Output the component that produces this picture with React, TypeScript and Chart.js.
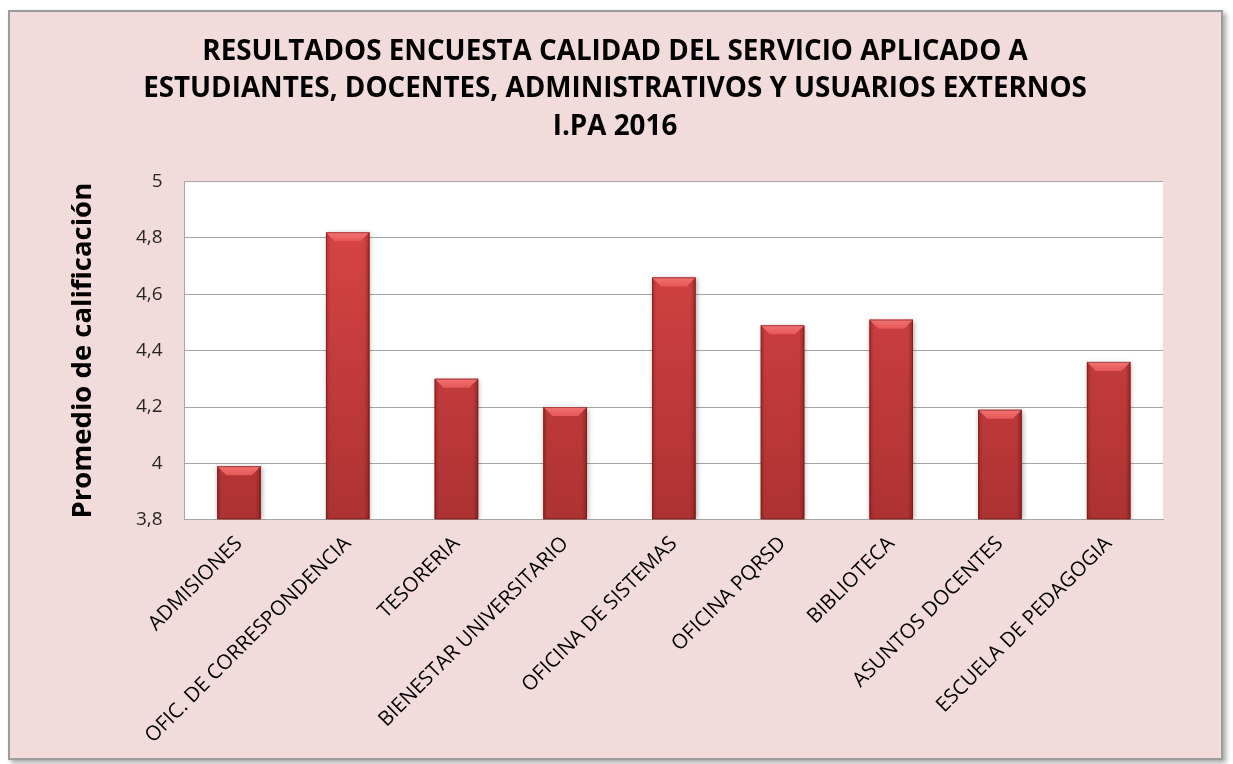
import React, { useEffect, useRef } from "react";
import { Chart, registerables } from "chart.js";

Chart.register(...registerables);

const titleLines = [
  "RESULTADOS ENCUESTA CALIDAD DEL SERVICIO APLICADO A",
  "ESTUDIANTES, DOCENTES, ADMINISTRATIVOS Y USUARIOS EXTERNOS",
  "I.PA 2016",
];
const yAxisTitle = "Promedio de calificación";
const categories = [
  "ADMISIONES",
  "OFIC. DE CORRESPONDENCIA",
  "TESORERIA",
  "BIENESTAR UNIVERSITARIO",
  "OFICINA DE SISTEMAS",
  "OFICINA PQRSD",
  "BIBLIOTECA",
  "ASUNTOS DOCENTES",
  "ESCUELA DE PEDAGOGIA",
];
const values = [3.99, 4.82, 4.3, 4.2, 4.66, 4.49, 4.51, 4.19, 4.36];
const yMin = 3.8;
const yMax = 5;
const yStep = 0.2;

const FONT = "'Open Sans', Lato, sans-serif";

const plotBgPlugin = {
  id: "plotBg",
  beforeDraw(chart: any) {
    const { ctx, chartArea } = chart;
    if (!chartArea) return;
    ctx.save();
    ctx.fillStyle = "#ffffff";
    ctx.fillRect(chartArea.left, chartArea.top, chartArea.right - chartArea.left, chartArea.bottom - chartArea.top);
    ctx.restore();
  },
};

const bevelPlugin = {
  id: "bevel",
  beforeDatasetsDraw(chart: any) {
    const { ctx, chartArea } = chart;
    const meta = chart.getDatasetMeta(0);
    ctx.save();
    ctx.beginPath();
    ctx.rect(chartArea.left, chartArea.top - 10, chartArea.right - chartArea.left, chartArea.bottom - chartArea.top + 10);
    ctx.clip();
    meta.data.forEach((bar: any) => {
      const w = bar.width;
      const left = bar.x - w / 2;
      const top = bar.y;
      const bottom = Math.min(bar.base, chartArea.bottom);
      ctx.shadowColor = "rgba(0,0,0,0.35)";
      ctx.shadowBlur = 5;
      ctx.shadowOffsetX = 1;
      ctx.shadowOffsetY = 1;
      ctx.fillStyle = "#b03434";
      ctx.fillRect(left, top, w, bottom - top);
    });
    ctx.restore();
  },
  afterDatasetsDraw(chart: any) {
    const { ctx, chartArea } = chart;
    const meta = chart.getDatasetMeta(0);
    ctx.save();
    meta.data.forEach((bar: any) => {
      const w = bar.width;
      const left = bar.x - w / 2;
      const right = bar.x + w / 2;
      const top = bar.y;
      const bottom = Math.min(bar.base, chartArea.bottom);
      const b = 9;
      const g = ctx.createLinearGradient(left, 0, right, 0);
      g.addColorStop(0, "rgba(90,10,10,0.3)");
      g.addColorStop(0.1, "rgba(90,10,10,0)");
      g.addColorStop(0.88, "rgba(90,10,10,0)");
      g.addColorStop(1, "rgba(90,10,10,0.4)");
      ctx.fillStyle = g;
      ctx.fillRect(left, top, w, bottom - top);
      const tg = ctx.createLinearGradient(0, top, 0, top + b);
      tg.addColorStop(0, "#f27474");
      tg.addColorStop(1, "#e65656");
      ctx.fillStyle = tg;
      ctx.beginPath();
      ctx.moveTo(left, top);
      ctx.lineTo(right, top);
      ctx.lineTo(right - b, top + b);
      ctx.lineTo(left + b, top + b);
      ctx.closePath();
      ctx.fill();
      ctx.strokeStyle = "rgba(110,20,20,0.5)";
      ctx.lineWidth = 1;
      ctx.strokeRect(left + 0.5, top + 0.5, w - 1, bottom - top - 1);
    });
    ctx.restore();
  },
};

export default function App() {
  const ref = useRef<HTMLCanvasElement | null>(null);
  useEffect(() => {
    if (!ref.current) return;
    const chart = new Chart(ref.current, {
      type: "bar",
      data: {
        labels: categories,
        datasets: [
          {
            data: values,
            base: yMin,
            backgroundColor: (c: any) => {
              const area = c.chart.chartArea;
              if (!area) return "#c83c3c";
              const g = c.chart.ctx.createLinearGradient(0, area.top, 0, area.bottom);
              g.addColorStop(0, "#dd4646");
              g.addColorStop(1, "#ad3232");
              return g;
            },
            borderWidth: 0,
            barPercentage: 0.4,
            categoryPercentage: 1,
          },
        ],
      },
      plugins: [plotBgPlugin, bevelPlugin],
      options: {
        responsive: false,
        animation: false,
        layout: { padding: { left: 57, right: 58, top: 21, bottom: 6 } },
        plugins: {
          legend: { display: false },
          tooltip: { enabled: false },
          title: {
            display: true,
            text: titleLines,
            color: "#000000",
            font: { family: FONT, size: 27.8, weight: "bold", lineHeight: 1.35 },
            padding: { top: 0, bottom: 36 },
          },
        },
        scales: {
          x: {
            grid: { display: false },
            border: { color: "#a6a6a6", width: 1 },
            ticks: {
              color: "#000000",
              font: { family: FONT, size: 20.5 },
              minRotation: 45,
              maxRotation: 45,
              autoSkip: false,
              padding: 4,
            },
          },
          y: {
            min: yMin,
            max: yMax,
            grid: { color: "#a6a6a6", drawTicks: false },
            border: { color: "#a6a6a6", width: 1 },
            ticks: {
              stepSize: yStep,
              color: "#262626",
              font: { family: FONT, size: 19 },
              padding: 22,
              callback: (v: any) => String(Math.round(Number(v) * 10) / 10).replace(".", ","),
            },
            title: {
              display: true,
              text: yAxisTitle,
              color: "#000000",
              font: { family: FONT, size: 27.5, weight: "bold", lineHeight: 1.2 },
              padding: { top: 0, bottom: 14 },
            },
          },
        },
      },
    });
    return () => chart.destroy();
  }, []);
  return (
    <div
      style={{
        position: "absolute",
        left: 8,
        top: 10,
        width: 1211,
        height: 746,
        border: "2px solid #9c9c9c",
        background: "#f2dcdb",
        boxShadow: "3px 3px 5px rgba(0,0,0,0.35)",
      }}
    >
      <canvas ref={ref} width={1211} height={746} style={{ display: "block" }} />
    </div>
  );
}
